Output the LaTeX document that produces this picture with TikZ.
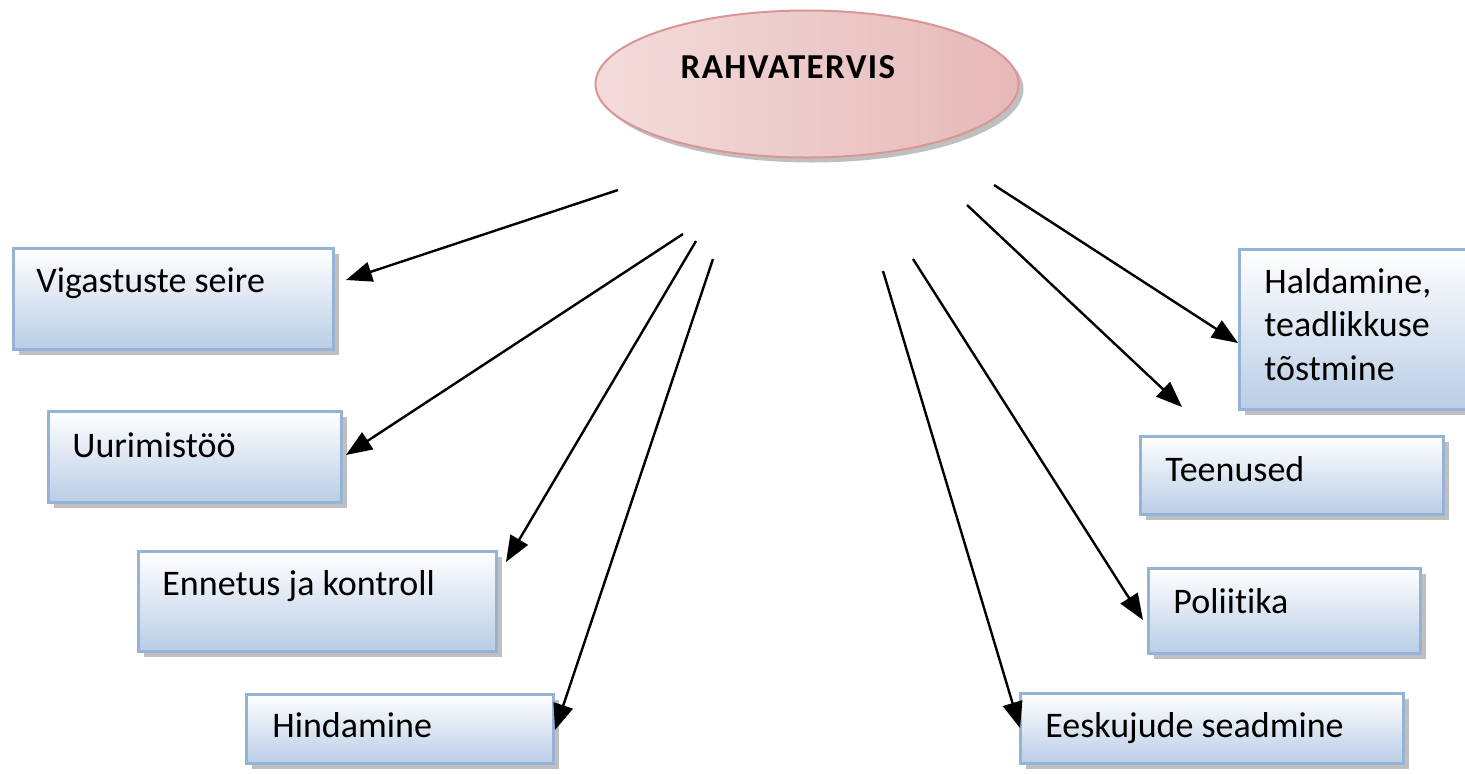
\documentclass[tikz,border=0pt]{standalone}
\usepackage{fontspec}
\setmainfont{Carlito}[Ligatures=NoCommon]
\usetikzlibrary{shapes.geometric,shadows,arrows.meta}
\definecolor{boxline}{HTML}{95B3D7}
\definecolor{boxfill}{HTML}{B9CDE5}
\definecolor{ovalline}{HTML}{D99694}
\definecolor{ovalA}{HTML}{F2DCDB}
\definecolor{ovalB}{HTML}{E6B9B8}

\begin{document}
\begin{tikzpicture}[x=0.5pt,y=-0.5pt,
  topic/.style={draw=boxline, line width=1.5pt, top color=white, bottom color=boxfill,
    anchor=north west, inner sep=0pt,
    drop shadow={shadow xshift=2.5pt, shadow yshift=-2.5pt, fill=black!50}},
  lbl/.style={anchor=base west, inner sep=0pt, align=left,
    font=\fontsize{18}{21.75}\selectfont},
  link/.style={-{Triangle[length=13pt,width=10pt]}, line width=1.2pt}]
  \useasboundingbox (0,0) rectangle (1465,773);

  \node[ellipse, draw=ovalline, line width=1pt, left color=ovalA, right color=ovalB,
    minimum width=211.5pt, minimum height=73.5pt,
    drop shadow={shadow xshift=2.5pt, shadow yshift=-2.5pt, fill=black!50}] (rv) at (807,84) {};
  \node[anchor=base, inner sep=0pt, font=\fontsize{17.5}{20}\selectfont\bfseries\addfontfeature{LetterSpace=4}] (rvt)
    at ([shift={(-19,-6)}]rv.center) {RAHVATERVIS};

  \node[topic, minimum width=160pt, minimum height=50.5pt] (vs) at (12,247) {};
  \node[topic, minimum width=146.5pt, minimum height=45.5pt] (ur) at (47,410) {};
  \node[topic, minimum width=179pt, minimum height=50pt] (ek) at (137,550) {};
  \node[topic, minimum width=153.5pt, minimum height=34.5pt] (hi) at (245,693) {};
  \node[topic, minimum width=113.5pt, minimum height=80pt] (ha) at (1238,248) {};
  \node[topic, minimum width=151.5pt, minimum height=39pt] (te) at (1139,435) {};
  \node[topic, minimum width=136pt, minimum height=42.5pt] (po) at (1147,567) {};
  \node[topic, minimum width=191.5pt, minimum height=35pt] (es) at (1019,692) {};

  \node[lbl] (vst) at ([shift={(24,45)}]vs.north west) {Vigastuste seire};
  \node[lbl] (urt) at ([shift={(25,47)}]ur.north west) {Uurimistöö};
  \node[lbl] (ekt) at ([shift={(25,45)}]ek.north west) {Ennetus ja kontroll};
  \node[lbl] (hit) at ([shift={(27,44)}]hi.north west) {Hindamine};
  \node[lbl] (hat) at ([shift={(26,132)}]ha.north west) {Haldamine,\\teadlikkuse\\tõstmine};
  \node[lbl] (tet) at ([shift={(26,46)}]te.north west) {Teenused};
  \node[lbl] (pot) at ([shift={(26,46)}]po.north west) {Poliitika};
  \node[lbl] (est) at ([shift={(26,45)}]es.north west) {Eeskujude seadmine};

  \coordinate (s1) at (618,190);
  \coordinate (s2) at (683,234);
  \coordinate (s3) at (696,241);
  \coordinate (s4) at (713,259);
  \coordinate (s5) at (883,271);
  \coordinate (s6) at (913,259);
  \coordinate (s7) at (967,205);
  \coordinate (s8) at (994,185);

  \draw[link] (s1) -- ([shift={(11,33)}]vs.north east);
  \draw[link] (s2) -- ([shift={(3,45)}]ur.north east);
  \draw[link] (s3) -- ([shift={(8,12)}]ek.north east);
  \draw[link] (s4) -- ([shift={(0,37)}]hi.north east);
  \draw[link] (s5) -- ([shift={(1,36)}]es.north west);
  \draw[link] (s6) -- ([shift={(-4,53)}]po.north west);
  \draw[link] (s7) -- ([shift={(43,-28)}]te.north west);
  \draw[link] (s8) -- ([shift={(0,95)}]ha.north west);
\end{tikzpicture}
\end{document}
